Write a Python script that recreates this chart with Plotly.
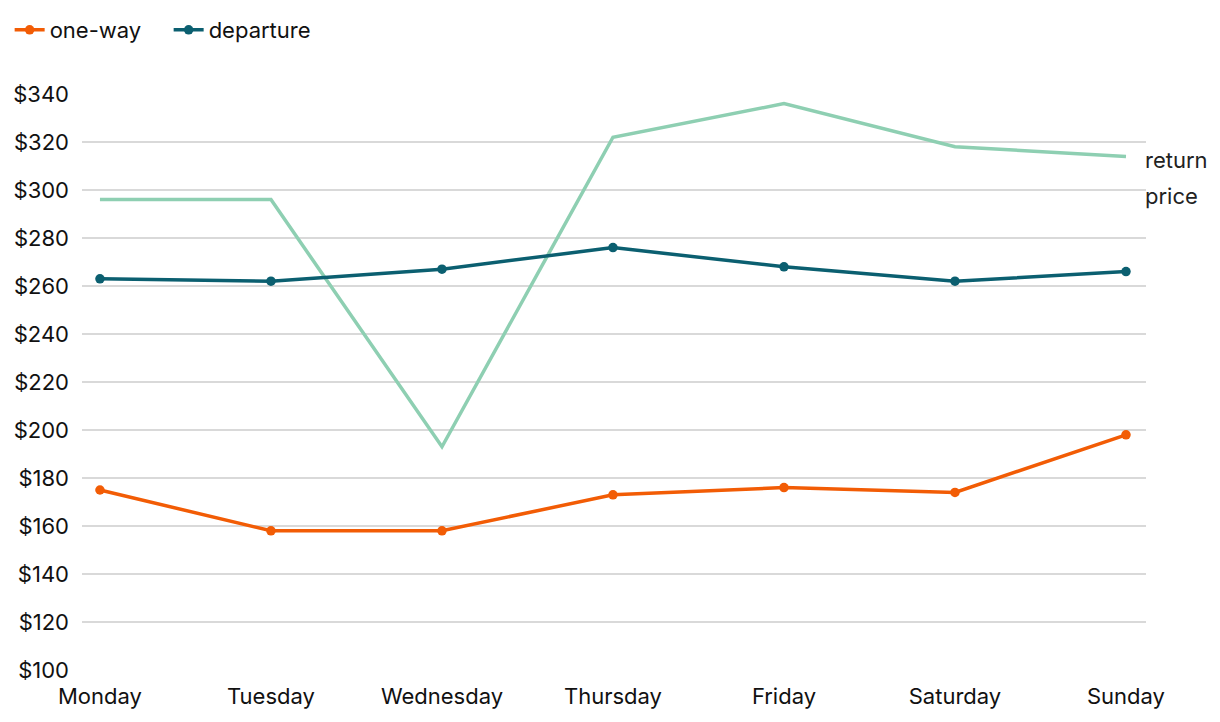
import plotly.graph_objects as go

days = ["Monday", "Tuesday", "Wednesday", "Thursday", "Friday", "Saturday", "Sunday"]
one_way = [175, 158, 158, 173, 176, 174, 198]
departure = [263, 262, 267, 276, 268, 262, 266]
return_price = [296, 296, 193, 322, 336, 318, 314]
y_ticks = list(range(100, 341, 20))

FONT = "Inter"
fig = go.Figure()
fig.add_trace(go.Scatter(x=days, y=return_price, mode="lines", name="return price",
                         line=dict(color="#8ecfb2", width=3.5), showlegend=False))
fig.add_trace(go.Scatter(x=days, y=departure, mode="lines+markers", name="departure",
                         line=dict(color="#0b5f70", width=3.5), marker=dict(size=9.5)))
fig.add_trace(go.Scatter(x=days, y=one_way, mode="lines+markers", name="one-way",
                         line=dict(color="#f25c05", width=3.5), marker=dict(size=9.5)))

for txt, yv in [("return", 312.5), ("price", 297.5)]:
    fig.add_annotation(x=1.0, xref="paper", y=yv, yref="y", text=txt,
                       showarrow=False, xanchor="left", yanchor="middle", align="left",
                       xshift=-3, font=dict(family=FONT, size=22, color="#222"))

fig.update_layout(
    width=1204, height=706,
    margin=dict(l=74, r=66, t=86, b=44, autoexpand=False),
    paper_bgcolor="white", plot_bgcolor="white",
    font=dict(family=FONT, size=22, color="#111"),
    legend=dict(orientation="h", x=-0.068, y=1.111, xanchor="left", yanchor="middle",
                traceorder="reversed", font=dict(size=22), itemwidth=30,
                entrywidth=114),
    xaxis=dict(range=[-0.105, 6.117], showgrid=False, zeroline=False, showline=False,
               ticks="", automargin=False, ticklabelstandoff=11, tickfont=dict(size=22)),
    yaxis=dict(range=[100, 340], tickvals=y_ticks, ticktext=[f"${v}" for v in y_ticks],
               showgrid=True, gridcolor="#d9d9d9", gridwidth=1.5, zeroline=False,
               showline=False, ticks="", automargin=False, ticklabelstandoff=12,
               tickfont=dict(size=22)),
)

fig.write_html("out.html")
